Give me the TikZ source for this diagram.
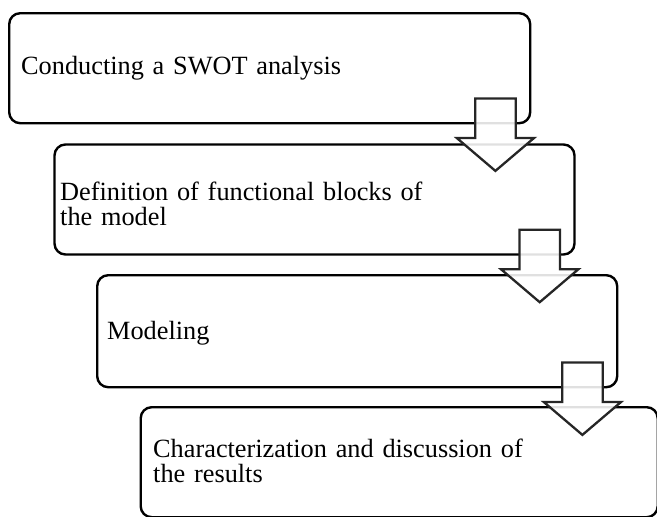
\documentclass[tikz,border=0pt]{standalone}
\usepackage{fontspec}
\setmainfont{Liberation Serif}
\usetikzlibrary{calc}
\newcommand\stagearrow[1]{%
  \draw[flow] ($(#1.south east)+(-56.25,26)$) -- ++(40.5,0) -- ++(0,-39.5) -- ++(18.5,0)
    -- ($(#1.south east)+(-36,-46.5)$) -- ($(#1.south east)+(-74.75,-13.5)$) -- ++(18.5,0) -- cycle;}
\begin{document}
\begin{tikzpicture}[x=1pt,y=1pt,
  stage/.style={draw=black, line width=2.4pt, rounded corners=11pt, inner sep=0pt, anchor=north west},
  lbl/.style={anchor=base west, inner sep=0pt, align=left, text width=480pt,
    font=\fontsize{26.3}{25.5}\selectfont},
  flow/.style={draw=black!85, line width=2.3pt, fill=white, fill opacity=0.88, line join=miter}]
\useasboundingbox (0,0) rectangle (657,-517);
\node[stage, minimum width=521pt, minimum height=110pt] (b1) at (8,-12) {};
\node[stage, minimum width=520pt, minimum height=110pt] (b2) at (53.3,-143.3) {};
\node[stage, minimum width=520pt, minimum height=112pt] (b3) at (96,-274) {};
\node[stage, minimum width=517pt, minimum height=110pt] (b4) at (139.5,-406) {};
\node[lbl] (t1) at ($(b1.north west)+(13,-62)$) {Conducting a SWOT analysis};
\node[lbl] (t2) at ($(b2.north west)+(6.7,-56.7)$) {Definition of functional blocks of\\the model};
\node[lbl] (t3) at ($(b3.north west)+(11,-65)$) {Modeling};
\node[lbl] (t4) at ($(b4.north west)+(13.5,-51)$) {Characterization and discussion of\\the results};
\stagearrow{b1}
\stagearrow{b2}
\stagearrow{b3}
\end{tikzpicture}
\end{document}
